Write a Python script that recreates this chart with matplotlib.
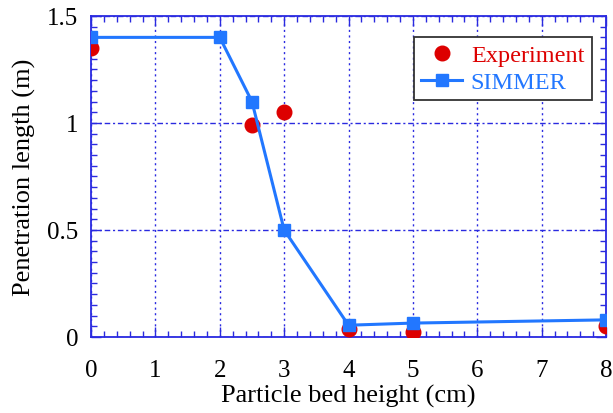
import matplotlib.pyplot as plt
from matplotlib.ticker import MultipleLocator

# Data
exp_x = [0, 2.5, 3, 4, 5, 8]
exp_y = [1.35, 0.99, 1.05, 0.035, 0.025, 0.05]

sim_x = [0, 2, 2.5, 3, 4, 5, 8]
sim_y = [1.40, 1.40, 1.10, 0.50, 0.055, 0.065, 0.08]

plt.rcParams['font.family'] = ['Liberation Serif', 'DejaVu Serif']
axis_blue = '#2a2ae0'
red = '#dd0000'
blue = '#2277ff'

fig = plt.figure(figsize=(6.13, 4.14), dpi=100)
ax = fig.add_axes([0.1485, 0.1836, 0.8401, 0.7754])

ax.plot(sim_x, sim_y, '-s', color=blue, lw=2.2, ms=9, label='SIMMER', zorder=4)
ax.plot(exp_x, exp_y, 'o', color=red, ms=10.5, label='Experiment', zorder=3)

ax.set_xlim(0, 8)
ax.set_ylim(0, 1.5)
ax.xaxis.set_major_locator(MultipleLocator(1))
ax.xaxis.set_minor_locator(MultipleLocator(0.2))
ax.yaxis.set_major_locator(MultipleLocator(0.5))
ax.yaxis.set_minor_locator(MultipleLocator(0.05))
ax.yaxis.set_major_formatter(plt.FuncFormatter(lambda v, p: f'{v:g}'))

ax.tick_params(which='both', direction='in', top=True, right=True, color=axis_blue, labelsize=18)
ax.tick_params(axis='x', pad=16)
ax.tick_params(axis='y', pad=9)
ax.tick_params(which='major', length=7, width=1)
ax.tick_params(which='minor', length=4, width=1)
for s in ax.spines.values():
    s.set_color(axis_blue)
    s.set_linewidth(1.3)

ax.grid(True, axis='x', which='major', color=axis_blue, ls=(0, (1.5, 2.5)), lw=1)
ax.grid(True, axis='y', which='major', color=axis_blue, ls=(0, (4, 2, 1.5, 2)), lw=1)

ax.set_xlabel('Particle bed height (cm)', fontsize=19, labelpad=2)
ax.set_ylabel('Penetration length (m)', fontsize=19, labelpad=8)

h, l = ax.get_legend_handles_labels()
leg = ax.legend(h[::-1], l[::-1], loc='upper right', bbox_to_anchor=(0.972, 0.935), fontsize=17.5,
                frameon=True, fancybox=False, edgecolor='#333333', framealpha=1,
                borderpad=0.3, handlelength=1.7, handletextpad=0.35, labelspacing=0.2,
                borderaxespad=0)
leg.get_frame().set_linewidth(1.3)
for t, c in zip(leg.get_texts(), [red, blue]):
    t.set_color(c)

fig.savefig('out.png', dpi=100)
